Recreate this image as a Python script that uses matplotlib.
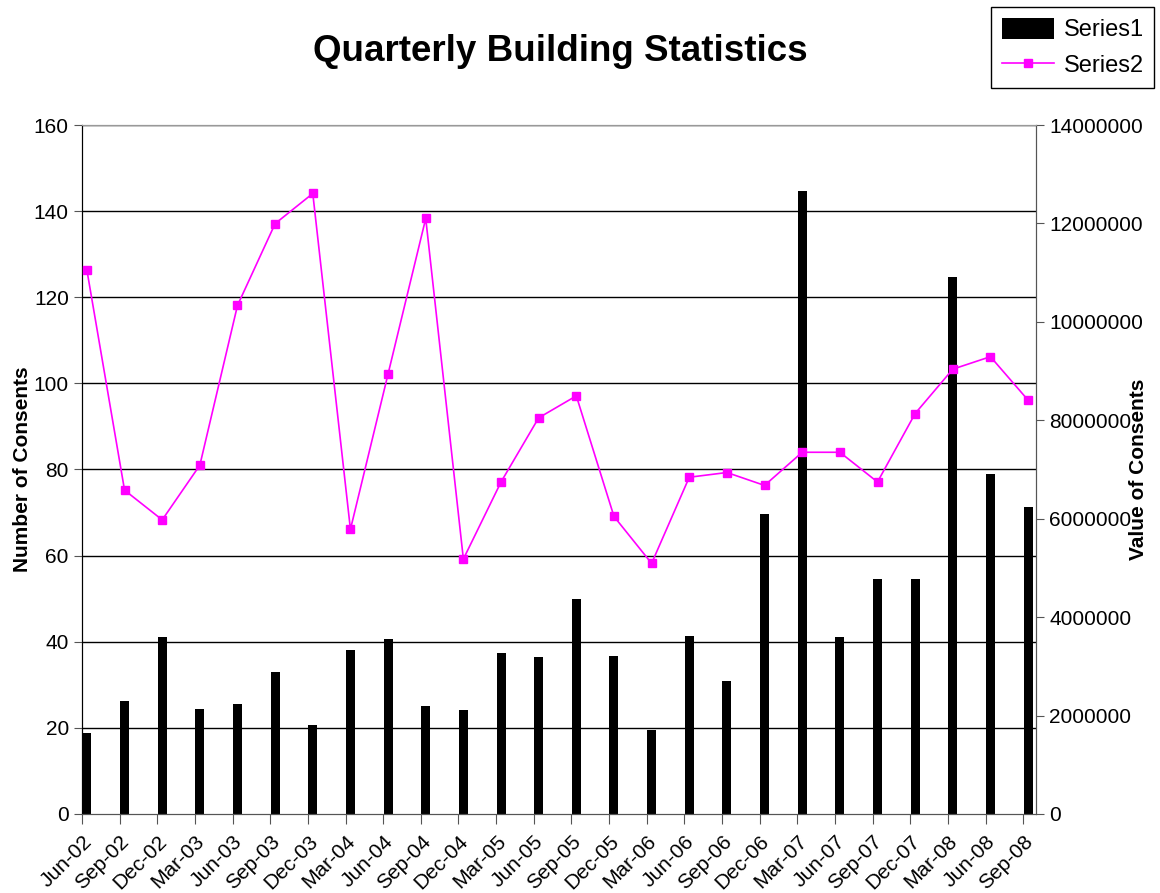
#!/usr/bin/env python3
"""Quarterly building statistics: consent values (bars) and consent counts (line)."""

import matplotlib

matplotlib.use("Agg")
import matplotlib.pyplot as plt  # noqa: E402
import numpy as np  # noqa: E402

plt.rcParams["font.family"] = ["Liberation Sans", "DejaVu Sans"]

# ---------------------------------------------------------------------------
# Data
# ---------------------------------------------------------------------------

quarters = [
    "Jun-02", "Sep-02", "Dec-02", "Mar-03", "Jun-03", "Sep-03", "Dec-03",
    "Mar-04", "Jun-04", "Sep-04", "Dec-04", "Mar-05", "Jun-05", "Sep-05",
    "Dec-05", "Mar-06", "Jun-06", "Sep-06", "Dec-06", "Mar-07", "Jun-07",
    "Sep-07", "Dec-07", "Mar-08", "Jun-08", "Sep-08",
]

# Series1: value of consents (right axis)
series1 = [
    1650000, 2290000, 3600000, 2130000, 2230000, 2890000, 1810000,
    3340000, 3560000, 2200000, 2110000, 3280000, 3190000, 4370000,
    3220000, 1700000, 3610000, 2710000, 6090000, 12650000, 3600000,
    4770000, 4770000, 10910000, 6900000, 6240000,
]

# Series2: number of consents (left axis)
series2 = [
    126.3, 75.2, 68.3, 81.0, 118.1, 137.1, 144.1, 66.1, 102.2, 138.3,
    59.2, 77.1, 92.0, 97.1, 69.1, 58.2, 78.2, 79.3, 76.3, 84.0, 84.0,
    77.1, 93.0, 103.3, 106.2, 96.1,
]

left_ticks = [0, 20, 40, 60, 80, 100, 120, 140, 160]
right_ticks = [0, 2000000, 4000000, 6000000, 8000000, 10000000, 12000000, 14000000]

MAGENTA = "#FF00FF"

# ---------------------------------------------------------------------------
# Figure
# ---------------------------------------------------------------------------

fig = plt.figure(figsize=(11.6, 8.93), dpi=100)
ax = fig.add_axes([0.0707, 0.0885, 0.8224, 0.7715])
ax2 = ax.twinx()

xs = np.arange(len(quarters))
offset = 0.13

# bars on the secondary (value) axis, drawn behind the line
ax2.bar(xs + offset, series1, width=0.24, color="black", label="Series1",
        zorder=2)
ax2.set_ylim(0, 14000000)
ax2.set_yticks(right_ticks)
ax2.set_yticklabels([str(t) for t in right_ticks], fontsize=15)
ax2.set_ylabel("Value of Consents", fontsize=15, fontweight="bold",
               va="center", ha="center")
ax2.yaxis.set_label_coords(1.107, 0.5)

# line on the primary axis, placed on top of the twin
ax.set_zorder(ax2.get_zorder() + 1)
ax.patch.set_visible(False)
ax.plot(xs + offset, series2, color=MAGENTA, linewidth=1.2, marker="s",
        markersize=5.5, markerfacecolor=MAGENTA, markeredgecolor=MAGENTA,
        label="Series2", zorder=3)
ax.set_ylim(0, 160)
ax.set_yticks(left_ticks)
ax.set_yticklabels([str(t) for t in left_ticks], fontsize=15)
ax.set_ylabel("Number of Consents", fontsize=15, fontweight="bold",
              va="center", ha="center")
ax.yaxis.set_label_coords(-0.062, 0.5)

ax.set_xlim(0, 25.34)
ax.set_xticks(xs)
ax.set_xticklabels(quarters, rotation=45, ha="right", va="top",
                   rotation_mode="anchor", fontsize=15)

# horizontal gridlines drawn on the secondary axes so bars sit above them
for t in left_ticks[1:]:
    ax2.axhline(t / 160 * 14000000, color="black", linewidth=1.0, zorder=1)
ax.grid(False)
ax2.grid(False)

for a in (ax, ax2):
    a.spines["top"].set_color("#999999")
    a.spines["left"].set_color("black")
    a.spines["right"].set_color("#555555")
    a.spines["bottom"].set_color("#555555")
    a.tick_params(axis="both", direction="out", length=6, color="#555555")
ax.tick_params(axis="x", length=7, pad=6)

fig.suptitle("Quarterly Building Statistics", x=0.483, y=0.962,
             fontsize=26.5, fontweight="bold")

handles = [ax2.containers[0], ax.get_lines()[0]]
leg = fig.legend(handles, ["Series1", "Series2"], loc="upper right",
                 bbox_to_anchor=(0.995, 0.992), borderaxespad=0,
                 fontsize=17, frameon=True, fancybox=False,
                 edgecolor="black", framealpha=1, handlelength=2.2,
                 handleheight=1.0, borderpad=0.45, labelspacing=0.5,
                 handletextpad=0.4)
leg.get_frame().set_linewidth(1.0)

fig.savefig("out.png", dpi=100)
